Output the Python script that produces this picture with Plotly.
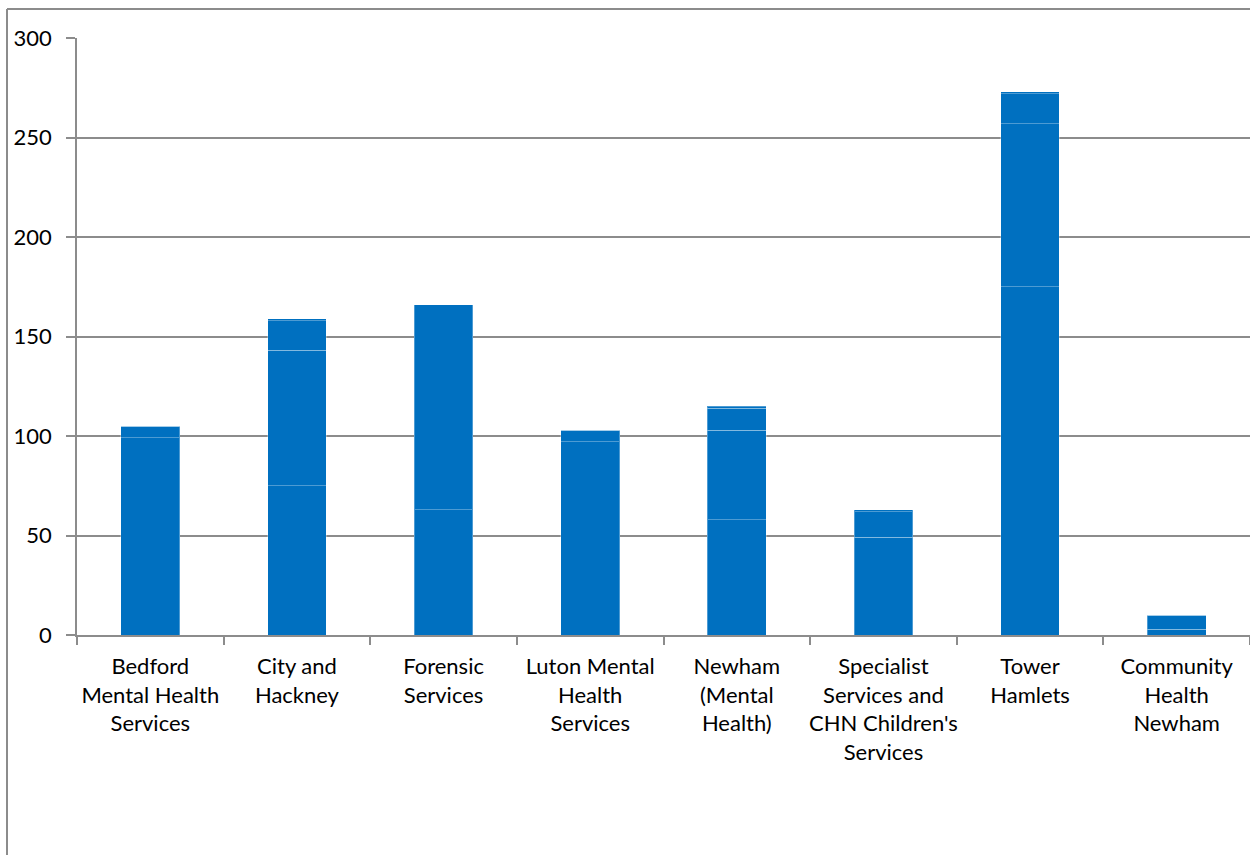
import plotly.graph_objects as go

categories = [
    "Bedford<br>Mental Health<br>Services",
    "City and<br>Hackney",
    "Forensic<br>Services",
    "Luton Mental<br>Health<br>Services",
    "Newham<br>(Mental<br>Health)",
    "Specialist<br>Services and<br>CHN Children's<br>Services",
    "Tower<br>Hamlets",
    "Community<br>Health<br>Newham",
]

# stacked components per directorate
part_1 = [99, 75, 63, 97, 58, 49, 175, 3]
part_2 = [6, 68, 103, 6, 45, 13, 82, 7]
part_3 = [0, 15, 0, 0, 11, 0, 15, 0]
part_4 = [0, 1, 0, 0, 1, 1, 1, 0]

y_ticks = [0, 50, 100, 150, 200, 250, 300]

BLUE = "#0070C0"
GRID = "#8C8C8C"
FONT = "Lato"

fig = go.Figure()
for name, vals in [("1", part_1), ("2", part_2), ("3", part_3), ("4", part_4)]:
    fig.add_trace(go.Bar(
        x=categories, y=vals, name=name,
        marker=dict(color=BLUE, line=dict(color="rgba(255,255,255,0.3)", width=1)),
        showlegend=False,
    ))

W, H = 1250, 855
ml, mr, mt, mb = 77, 0, 38, 220
pw, ph = W - ml - mr, H - mt - mb

def px_x(x):
    return (x - ml) / pw

def px_y(y):
    return (H - mb - y) / ph

fig.update_layout(
    barmode="stack",
    bargap=0.6,
    width=W, height=H,
    margin=dict(l=ml, r=mr, t=mt, b=mb, autoexpand=False),
    paper_bgcolor="white",
    plot_bgcolor="white",
    font=dict(family=FONT, size=22, color="black"),
    xaxis=dict(
        automargin=False,
        tickangle=0,
        showline=True, linecolor=GRID, linewidth=1.5,
        ticks="outside", tickson="boundaries", ticklen=8, tickcolor=GRID, tickwidth=1.5,
        tickfont=dict(family=FONT, size=22, color="black"),
        ticklabelstandoff=11,
        showgrid=False,
    ),
    yaxis=dict(
        automargin=False,
        range=[0, 300],
        tickvals=y_ticks,
        showline=True, linecolor=GRID, linewidth=1.5,
        ticks="outside", ticklen=9, tickcolor=GRID, tickwidth=1.5,
        showgrid=True, gridcolor=GRID, gridwidth=1.5,
        tickfont=dict(family=FONT, size=22, color="black"),
        ticklabelstandoff=10,
        zeroline=False,
    ),
    shapes=[
        dict(type="line", xref="paper", yref="paper",
             x0=px_x(7), x1=px_x(7), y0=px_y(9), y1=px_y(H + 5),
             line=dict(color=GRID, width=2)),
        dict(type="line", xref="paper", yref="paper",
             x0=px_x(7), x1=px_x(W + 5), y0=px_y(9), y1=px_y(9),
             line=dict(color=GRID, width=2)),
    ],
)

fig.write_html("out.html")
